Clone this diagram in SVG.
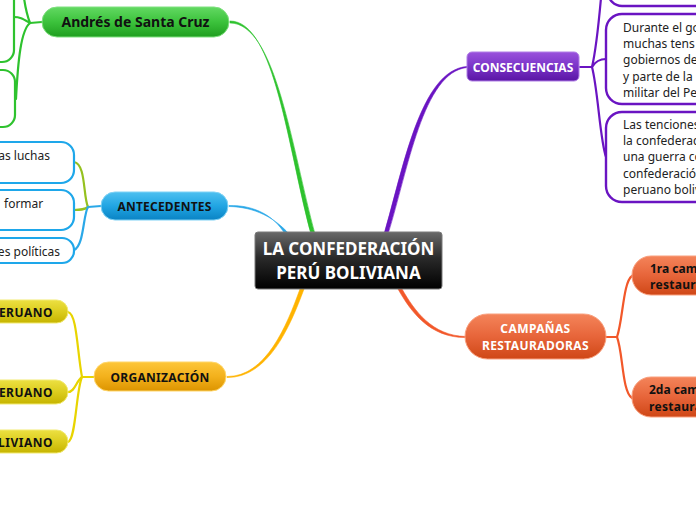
<svg xmlns="http://www.w3.org/2000/svg" width="696" height="520" viewBox="0 0 696 520">
<defs>
<linearGradient id="gGreen" x1="0" y1="0" x2="0" y2="1"><stop offset="0" stop-color="#62d962"/><stop offset="0.5" stop-color="#3cc23c"/><stop offset="1" stop-color="#1f9e1f"/></linearGradient>
<linearGradient id="gBlue" x1="0" y1="0" x2="0" y2="1"><stop offset="0" stop-color="#4ec0f0"/><stop offset="0.5" stop-color="#21a5e3"/><stop offset="1" stop-color="#0a83c4"/></linearGradient>
<linearGradient id="gPurple" x1="0" y1="0" x2="0" y2="1"><stop offset="0" stop-color="#9a52dc"/><stop offset="0.5" stop-color="#7a34c8"/><stop offset="1" stop-color="#5a15a4"/></linearGradient>
<linearGradient id="gOrange" x1="0" y1="0" x2="0" y2="1"><stop offset="0" stop-color="#f4845a"/><stop offset="0.5" stop-color="#e7653a"/><stop offset="1" stop-color="#cf4716"/></linearGradient>
<linearGradient id="gAmber" x1="0" y1="0" x2="0" y2="1"><stop offset="0" stop-color="#fdc63a"/><stop offset="0.5" stop-color="#f3b11c"/><stop offset="1" stop-color="#dc9400"/></linearGradient>
<linearGradient id="gYellow" x1="0" y1="0" x2="0" y2="1"><stop offset="0" stop-color="#ece042"/><stop offset="0.5" stop-color="#dccd1e"/><stop offset="1" stop-color="#c6b400"/></linearGradient>
<linearGradient id="gBlack" x1="0" y1="0" x2="0" y2="1"><stop offset="0" stop-color="#6a6a6a"/><stop offset="0.45" stop-color="#2a2a2a"/><stop offset="1" stop-color="#000"/></linearGradient>
</defs>
<style>
text{font-family:"Noto Sans","Open Sans","DejaVu Sans",sans-serif;}
.b{font-weight:bold;font-size:12px;fill:#111;}
.w{font-weight:bold;font-size:12px;fill:#fff;}
.t{font-size:12px;fill:#222;}
.c{fill:none;stroke-width:2.2;stroke-linecap:round;}
.tp{stroke-width:0.6;}
</style>
<g id="connectors">
<path class="tp" fill="#2ec22e" stroke="#2ec22e" d="M311,234 C288,150 275,21 230,21 L230,23 C276,23 292,150 315,234 Z"/>
<path class="tp" fill="#2aa8e8" stroke="#2aa8e8" d="M285,234 C274,216 255,205 229,205.5 L229,206.5 C255,207 275,218 289,234 Z"/>
<path class="tp" fill="#6a14c2" stroke="#6a14c2" d="M384,234 C403,170 420,70 467,66.5 L467,67.5 C423,72 408,170 388,234 Z"/>
<path class="tp" fill="#f2582a" stroke="#f2582a" d="M398,289 C411,312 430,338 466,337.5 L466,336.5 C432,336 414,310 402,289 Z"/>
<path class="tp" fill="#ffb300" stroke="#ffb300" d="M300,289 C287,325 266,377 227,376.5 L227,377.5 C268,378 290,327 304,289 Z"/>
<path class="c" stroke="#2ec22e" d="M42,22 L30,23"/>
<path class="c" stroke="#2ec22e" d="M30,23 C27,15 25,5 24,-2"/>
<path class="c" stroke="#2ec22e" d="M30,23 C23,19 20,17 14,17"/>
<path class="c" stroke="#2ec22e" d="M30,23 C21,30 18,60 16,99"/>
<path class="c" stroke="#2aa8e8" d="M101,206 L88,207"/>
<path class="c" stroke="#95c11f" d="M88,207 C83,196 86,164 74,162"/>
<path class="c" stroke="#95c11f" d="M88,207 C84,210 80,210 74,210"/>
<path class="c" stroke="#2aa8e8" d="M88,207 C83,215 84,246 74,250"/>
<path class="c" stroke="#6a14c2" d="M580,67 L592,67"/>
<path class="c" stroke="#6a14c2" d="M592,67 C596,50 599,20 601,-2"/>
<path class="c" stroke="#6a14c2" d="M592,67 C595,62 600,59 606,59"/>
<path class="c" stroke="#6a14c2" d="M592,67 C598,90 600,140 606,157"/>
<path class="c" stroke="#f2582a" d="M606,337 L617,337"/>
<path class="c" stroke="#f2582a" d="M617,337 C623,320 623,282 632,276"/>
<path class="c" stroke="#f2582a" d="M617,337 C623,352 622,392 632,398"/>
<path class="c" stroke="#e8d400" d="M94,377 L82,377"/>
<path class="c" stroke="#e8d400" d="M82,377 C77,350 77,314 68,312"/>
<path class="c" stroke="#e8d400" d="M82,377 C76,381 75,392 68,392"/>
<path class="c" stroke="#e8d400" d="M82,377 C76,390 76,440 68,442"/>
</g>
<g id="center">
<rect x="255" y="232" width="187" height="57" rx="3" fill="url(#gBlack)" stroke="#7a7a7a" stroke-width="1"/>
<text x="348.5" y="255" text-anchor="middle" font-size="17" font-weight="bold" fill="#fff">LA CONFEDERACIÓN</text>
<text x="348.5" y="279" text-anchor="middle" font-size="17" font-weight="bold" fill="#fff">PERÚ BOLIVIANA</text>
</g>
<g id="andres">
<rect x="42" y="7" width="187" height="30" rx="15" fill="url(#gGreen)" stroke="#7fe07f" stroke-width="1"/>
<text x="135.5" y="27" text-anchor="middle" font-size="14" font-weight="bold" fill="#111">Andrés de Santa Cruz</text>
</g>
<g id="green-a"><rect x="-100" y="-40" width="114" height="102" rx="12" fill="#fff" stroke="#2ec22e" stroke-width="2.2"/></g>
<g id="green-b"><rect x="-100" y="70" width="115" height="57" rx="12" fill="#fff" stroke="#2ec22e" stroke-width="2.2"/></g>
<g id="antecedentes">
<rect x="101" y="192" width="127" height="28" rx="14" fill="url(#gBlue)" stroke="#7fd2f5" stroke-width="1"/>
<text class="b" x="164.5" y="210.5" text-anchor="middle" letter-spacing="0.2">ANTECEDENTES</text>
</g>
<g id="ant-1"><rect x="-100" y="142" width="174" height="41" rx="13" fill="#fff" stroke="#1ea7ea" stroke-width="2.2"/><text class="t" x="50" y="159.5" text-anchor="end">as luchas</text></g>
<g id="ant-2"><rect x="-100" y="190" width="174" height="40" rx="13" fill="#fff" stroke="#1ea7ea" stroke-width="2.2"/><text class="t" x="4" y="207.5">formar</text></g>
<g id="ant-3"><rect x="-100" y="238" width="174" height="25" rx="12" fill="#fff" stroke="#1ea7ea" stroke-width="2.2"/><text class="t" x="60" y="255.5" text-anchor="end">es políticas</text></g>
<g id="organizacion">
<rect x="94" y="362" width="132" height="29" rx="14.5" fill="url(#gAmber)" stroke="#ffd66a" stroke-width="1"/>
<text class="b" x="160" y="381.5" text-anchor="middle" letter-spacing="0.3">ORGANIZACIÓN</text>
</g>
<g id="org-1"><rect x="-100" y="300" width="168" height="23" rx="11.5" fill="url(#gYellow)" stroke="#f2ea70" stroke-width="1"/><text class="b" x="53" y="316.5" text-anchor="end" letter-spacing="0.5">ERUANO</text></g>
<g id="org-2"><rect x="-100" y="380" width="168" height="24" rx="12" fill="url(#gYellow)" stroke="#f2ea70" stroke-width="1"/><text class="b" x="53" y="396.5" text-anchor="end" letter-spacing="0.5">ERUANO</text></g>
<g id="org-3"><rect x="-100" y="430" width="168" height="23" rx="11.5" fill="url(#gYellow)" stroke="#f2ea70" stroke-width="1"/><text class="b" x="53" y="446.5" text-anchor="end" letter-spacing="0.5">LIVIANO</text></g>
<g id="consecuencias">
<rect x="467" y="52" width="112" height="29" rx="5" fill="url(#gPurple)" stroke="#b07ee6" stroke-width="1"/>
<text class="w" x="523" y="71.5" text-anchor="middle">CONSECUENCIAS</text>
</g>
<g id="cons-0"><rect x="608" y="-60" width="120" height="66" rx="14" fill="#fff" stroke="#6a14c2" stroke-width="2.4"/></g>
<g id="cons-1">
<rect x="606" y="14" width="120" height="90" rx="16" fill="#fff" stroke="#6a14c2" stroke-width="2.4"/>
<text class="t" x="623" y="31.5">Durante el go</text>
<text class="t" x="623" y="48">muchas tens</text>
<text class="t" x="623" y="64">gobiernos de</text>
<text class="t" x="623" y="80.5">y parte de la</text>
<text class="t" x="623" y="97">militar del Pe</text>
</g>
<g id="cons-2">
<rect x="606" y="112" width="120" height="90" rx="16" fill="#fff" stroke="#6a14c2" stroke-width="2.4"/>
<text class="t" x="623" y="128.5">Las tenciones</text>
<text class="t" x="623" y="145">la confederac</text>
<text class="t" x="623" y="161">una guerra co</text>
<text class="t" x="623" y="177.5">confederació</text>
<text class="t" x="623" y="194">peruano boliv</text>
</g>
<g id="campanas">
<rect x="465" y="314" width="141" height="45" rx="22.5" fill="url(#gOrange)" stroke="#f9a07e" stroke-width="1"/>
<text class="w" x="535.5" y="333" text-anchor="middle" letter-spacing="0.4">CAMPAÑAS</text>
<text class="w" x="535.5" y="350" text-anchor="middle" letter-spacing="0.4">RESTAURADORAS</text>
</g>
<g id="camp-1">
<rect x="632" y="256" width="120" height="39" rx="19" fill="url(#gOrange)" stroke="#f9a07e" stroke-width="1"/>
<text class="b" x="650" y="272.5">1ra cam</text>
<text class="b" x="650" y="289" letter-spacing="0.3">restaura</text>
</g>
<g id="camp-2">
<rect x="632" y="377" width="120" height="40" rx="19" fill="url(#gOrange)" stroke="#f9a07e" stroke-width="1"/>
<text class="b" x="649" y="393.5">2da cam</text>
<text class="b" x="649" y="410.5" letter-spacing="0.3">restaura</text>
</g>
</svg>
